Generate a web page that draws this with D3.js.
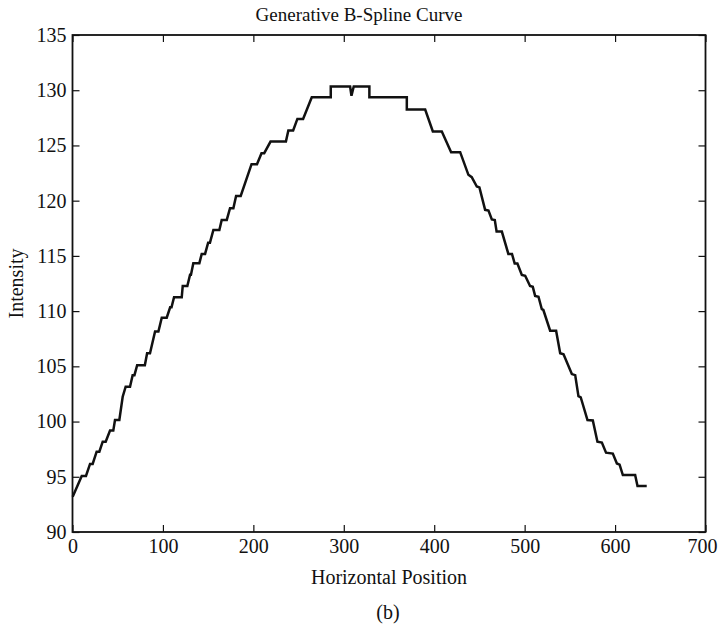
<!DOCTYPE html>
<html>
<head>
<meta charset="utf-8">
<script src="https://cdn.jsdelivr.net/npm/d3@7"></script>
<style>
  html, body { margin: 0; padding: 0; background: #fff; }
  svg { display: block; }
  text { font-family: "Liberation Serif", "DejaVu Serif", serif; fill: #111; }
</style>
</head>
<body>
<svg id="chart" width="718" height="632"></svg>
<script>
// Curve vertices: horizontal position and intensity
const positions = [
  0.2, 10.2, 14.9, 19.4, 22.3, 26.7, 29.7, 33.4, 36.7, 41.5, 45.1, 47, 51.8,
  55.5, 58.8, 63.6, 66.5, 68.5, 71.5, 80, 82.5, 85.7, 91.3, 95, 98.7, 104.2,
  108, 109.5, 112.3, 120.8, 121.9, 127, 130, 131, 133.6, 140.3, 142.9, 146.6,
  150, 152, 155.8, 162.4, 165, 170.6, 174.2, 177.9, 180.9, 186, 198, 204,
  209, 212, 219, 236, 238.7, 244, 248.7, 255, 264.6, 285.6, 285.6, 307,
  308.5, 311, 328.3, 328.3, 369.7, 369.7, 390, 398.5, 408.4, 418.7, 428.7,
  437.8, 441.5, 447.1, 450, 456.3, 460, 463.7, 467, 469, 474.8, 482, 486,
  489, 492, 496.9, 500.6, 506, 509, 511.6, 515.3, 519, 520.7, 528.2, 534.8,
  539.3, 543, 552.2, 555.9, 559.5, 562, 569.5, 575.4, 580.5, 585.4, 590,
  597.5, 602, 605, 608.6, 622.2, 624.8, 635
];
const intensities = [
  93.2, 95.07, 95.07, 96.16, 96.16, 97.27, 97.27, 98.18, 98.18, 99.18, 99.18,
  100.14, 100.14, 102.25, 103.16, 103.16, 104.2, 104.2, 105.1, 105.1, 106.19,
  106.19, 108.15, 108.15, 109.4, 109.4, 110.35, 110.35, 111.26, 111.26,
  112.28, 112.28, 113.3, 113.3, 114.34, 114.34, 115.18, 115.18, 116.2, 116.2,
  117.35, 117.35, 118.26, 118.26, 119.32, 119.32, 120.43, 120.43, 123.3,
  123.3, 124.3, 124.3, 125.35, 125.35, 126.35, 126.35, 127.4, 127.4, 129.37,
  129.37, 130.34, 130.34, 129.5, 130.34, 130.34, 129.37, 129.37, 128.25,
  128.25, 126.26, 126.26, 124.39, 124.39, 122.34, 122.13, 121.28, 121.2,
  119.17, 119.1, 118.3, 118.25, 117.2, 117.2, 115.18, 115.18, 114.3, 114.3,
  113.28, 113.2, 112.28, 112.2, 111.38, 111.3, 110.17, 110.1, 108.23, 108.23,
  106.19, 106.1, 104.3, 104.2, 102.3, 102.2, 100.14, 100.1, 98.18, 98.1,
  97.18, 97.1, 96.2, 96.1, 95.16, 95.16, 94.17, 94.17
];
const xTicks = [0, 100, 200, 300, 400, 500, 600, 700];
const yTicks = [90, 95, 100, 105, 110, 115, 120, 125, 130, 135];

const titleText = "Generative B-Spline Curve";
const xLabel = "Horizontal Position";
const yLabel = "Intensity";
const caption = "(b)";

const plot = { left: 72.5, right: 705.5, top: 35, bottom: 532 };
const W = 718;

const svg = d3.select("#chart");

const x = d3.scaleLinear().domain([0, 700]).range([plot.left, plot.right]);
const y = d3.scaleLinear().domain([90, 135]).range([plot.bottom, plot.top]);

const tickLen = 7;
const fontSize = 20;

function styleAxis(g) {
  g.select(".domain").remove();
  g.selectAll(".tick line").attr("stroke", "#111").attr("stroke-width", 1.2);
  g.selectAll(".tick text")
    .style("font-family", '"Liberation Serif", serif')
    .style("font-size", fontSize + "px")
    .attr("fill", "#111");
}

const xAxisG = svg.append("g")
  .attr("transform", `translate(0,${plot.bottom})`)
  .call(d3.axisBottom(x).tickValues(xTicks).tickFormat(d3.format("d"))
    .tickSizeInner(-tickLen).tickSizeOuter(0).tickPadding(7))
  .call(styleAxis);

// Keep the rightmost tick label inside the page edge
xAxisG.selectAll(".tick text").each(function () {
  const bb = this.getBBox();
  const tx = x(+d3.select(this.parentNode).datum());
  const overflow = tx + bb.x + bb.width - (W - 1);
  if (overflow > 0) d3.select(this).attr("x", -overflow);
});

svg.append("g")
  .attr("transform", `translate(0,${plot.top})`)
  .call(d3.axisTop(x).tickValues(xTicks).tickFormat("")
    .tickSizeInner(-tickLen).tickSizeOuter(0))
  .call(styleAxis);

svg.append("g")
  .attr("transform", `translate(${plot.left},0)`)
  .call(d3.axisLeft(y).tickValues(yTicks).tickFormat(d3.format("d"))
    .tickSizeInner(-tickLen).tickSizeOuter(0).tickPadding(6))
  .call(styleAxis);

svg.append("g")
  .attr("transform", `translate(${plot.right},0)`)
  .call(d3.axisRight(y).tickValues(yTicks).tickFormat("")
    .tickSizeInner(-tickLen).tickSizeOuter(0))
  .call(styleAxis);

// Curve
const pts = positions.map((p, i) => [p, intensities[i]]);
svg.append("path")
  .datum(pts)
  .attr("fill", "none")
  .attr("stroke", "#111")
  .attr("stroke-width", 2.5)
  .attr("stroke-linejoin", "miter")
  .attr("d", d3.line().x(d => x(d[0])).y(d => y(d[1])));

// Frame
svg.append("rect")
  .attr("x", plot.left).attr("y", plot.top)
  .attr("width", plot.right - plot.left)
  .attr("height", plot.bottom - plot.top)
  .attr("fill", "none")
  .attr("stroke", "#111")
  .attr("stroke-width", 1.8);

// Titles
svg.append("text")
  .attr("x", 359).attr("y", 21)
  .attr("text-anchor", "middle")
  .style("font-size", "19px")
  .text(titleText);

svg.append("text")
  .attr("x", (plot.left + plot.right) / 2).attr("y", 584)
  .attr("text-anchor", "middle")
  .style("font-size", "20px")
  .text(xLabel);

svg.append("text")
  .attr("transform", `translate(23,${(plot.top + plot.bottom) / 2}) rotate(-90)`)
  .attr("text-anchor", "middle")
  .style("font-size", "20px")
  .text(yLabel);

svg.append("text")
  .attr("x", (plot.left + plot.right) / 2 - 1).attr("y", 619)
  .attr("text-anchor", "middle")
  .style("font-size", "20px")
  .text(caption);
</script>
</body>
</html>
